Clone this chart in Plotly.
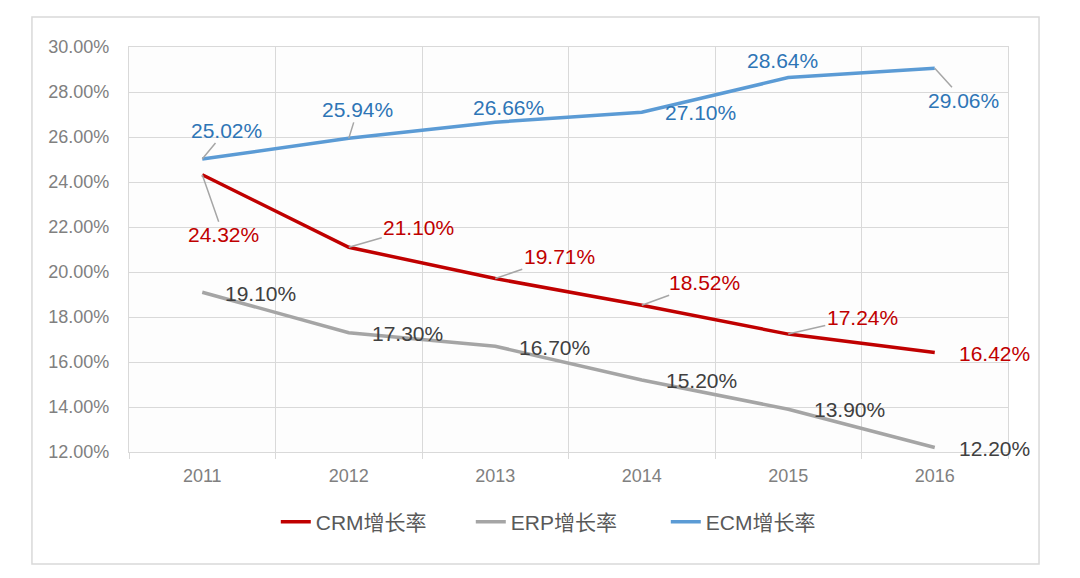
import plotly.graph_objects as go

years = ["2011", "2012", "2013", "2014", "2015", "2016"]
crm = [0.2432, 0.2110, 0.1971, 0.1852, 0.1724, 0.1642]
erp = [0.1910, 0.1730, 0.1670, 0.1520, 0.1390, 0.1220]
ecm = [0.2502, 0.2594, 0.2666, 0.2710, 0.2864, 0.2906]

# label offsets (pixels, label centre relative to point)
crm_off = [(21, 60), (70, -20), (64, -22), (63, -23), (74, -17), (60, 1)]
erp_off = [(58, 1), (59, 1), (59, 1), (60, 0), (61, 0), (60, 1)]
ecm_off = [(24, -29), (9, -29), (13, -15), (59, 0), (-6, -17), (29, 32)]
crm_leader = [True, True, True, True, True, False]
erp_leader = [False] * 6
ecm_leader = [True, True, False, False, False, True]

FONT = "Liberation Sans, Arial, Noto Sans CJK SC, sans-serif"
xs = list(range(len(years)))

fig = go.Figure()
series = [
    ("CRM增长率", crm, "#C00000", "#C00000", crm_off, crm_leader),
    ("ERP增长率", erp, "#A5A5A5", "#404040", erp_off, erp_leader),
    ("ECM增长率", ecm, "#5B9BD5", "#2E75B6", ecm_off, ecm_leader),
]
annotations = []
for name, vals, lc, tc, offs, leads in series:
    fig.add_trace(go.Scatter(x=xs, y=vals, mode="lines", name=name,
                             line=dict(color=lc, width=3.5), hoverinfo="skip"))
    for xi, v, (ax, ay), lead in zip(xs, vals, offs, leads):
        annotations.append(dict(
            x=xi, y=v, xref="x", yref="y", text=f"{v*100:.2f}%",
            showarrow=True, arrowhead=0, arrowwidth=1.5,
            arrowcolor="#A6A6A6" if lead else "rgba(255,255,255,0)",
            ax=ax, ay=ay, font=dict(family=FONT, size=21, color=tc)))

fig.update_layout(
    width=1080, height=578,
    margin=dict(l=121, r=80, t=39, b=134),
    paper_bgcolor="white", plot_bgcolor="#FDFDFD",
    font=dict(family=FONT),
    showlegend=True,
    legend=dict(orientation="h", x=0.167, xanchor="left", y=-0.173, yanchor="middle",
                font=dict(family=FONT, size=21, color="#595959"),
                entrywidth=150, entrywidthmode="pixels", bgcolor="rgba(0,0,0,0)"),
    annotations=annotations,
    shapes=[dict(type="rect", xref="paper", yref="paper",
                 x0=-0.1104, x1=1.0353, y0=-0.2765, y1=1.074,
                 line=dict(color="#D9D9D9", width=1.5), layer="below")],
)
fig.update_xaxes(range=[-0.5, len(years) - 0.5], tickmode="array",
                 tickvals=xs, ticktext=years, ticks="", showgrid=False,
                 zeroline=False, ticklabelstandoff=7,
                 minor=dict(tick0=-0.5, dtick=1, showgrid=True, gridcolor="#D9D9D9",
                            gridwidth=1, ticks="outside", ticklen=6, tickcolor="#D9D9D9"),
                 showline=True, linecolor="#D9D9D9", mirror=True,
                 tickfont=dict(family=FONT, size=18, color="#808080"))
fig.update_yaxes(range=[0.12, 0.30], dtick=0.02, tickformat=".2%",
                 showgrid=True, gridcolor="#D9D9D9", gridwidth=1,
                 showline=True, linecolor="#D9D9D9", mirror=True,
                 zeroline=False, ticks="", ticklabelstandoff=15,
                 tickfont=dict(family=FONT, size=18, color="#808080"))

fig.write_html("out.html")
